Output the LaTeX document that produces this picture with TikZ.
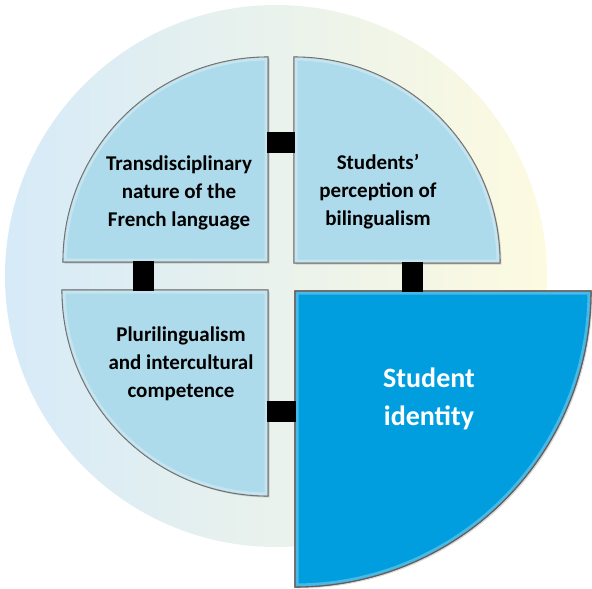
\documentclass[tikz,border=0pt]{standalone}
\usepackage{fontspec}
\setmainfont{Carlito}
\usetikzlibrary{shadows}
\definecolor{secfill}{RGB}{174,219,235}
\definecolor{secmain}{RGB}{0,158,222}
\definecolor{secline}{RGB}{95,95,95}
\definecolor{bgleft}{RGB}{214,234,248}
\definecolor{bgmid}{RGB}{232,238,206}
\definecolor{bgright}{RGB}{253,250,224}
\tikzset{
  sector/.style={fill=secfill, draw=secline, line width=1.1pt, line join=miter,
    drop shadow={shadow xshift=1.5pt, shadow yshift=-1.5pt, opacity=0.3}},
  mainsector/.style={sector, fill=secmain},
  glow/.style={draw=white, line width=7pt, opacity=0.28},
  bar/.style={draw=black, line width=21pt},
  lbl/.style={align=center, text=black, font=\bfseries\fontsize{21}{28}\selectfont},
  mainlbl/.style={align=center, text=white, font=\bfseries\fontsize{28}{38}\selectfont}
}
\def\pathTL{(268,-262) -- (63,-262) arc[start angle=180,end angle=90,radius=205] -- cycle}
\def\pathTR{(294,-263) -- (294,-57) arc[start angle=90,end angle=0,radius=206] -- cycle}
\def\pathBL{(268,-290) -- (62,-290) arc[start angle=180,end angle=270,radius=206] -- cycle}
\def\pathBR{(295,-291) -- (591,-291) arc[start angle=0,end angle=-90,radius=296] -- cycle}
\begin{document}
\begin{tikzpicture}[x=1pt,y=1pt]
\useasboundingbox (0,0) rectangle (592,-589);
% background disc
\shade[left color=bgleft, middle color=bgmid, right color=bgright] (276,-276) circle[radius=271];
% sectors
\path[sector] \pathTL;
\begin{scope}\clip \pathTL; \path[glow] \pathTL; \end{scope}
\path[sector] \pathTR;
\begin{scope}\clip \pathTR; \path[glow] \pathTR; \end{scope}
\path[sector] \pathBL;
\begin{scope}\clip \pathBL; \path[glow] \pathBL; \end{scope}
\path[mainsector] \pathBR;
\begin{scope}\clip \pathBR; \path[glow] \pathBR; \end{scope}
\draw[draw=secline, line width=1.1pt] \pathBR;
% connector end points
\coordinate (tlE) at (267,-142.5);
\coordinate (trW) at (295,-142.5);
\coordinate (tlS) at (143,-261);
\coordinate (blN) at (143,-291);
\coordinate (trS) at (412,-262);
\coordinate (brN) at (412,-292);
\coordinate (blE) at (267,-411.5);
\coordinate (brW) at (296,-411.5);
\draw[bar] (tlE) -- (trW);
\draw[bar] (tlS) -- (blN);
\draw[bar] (trS) -- (brN);
\draw[bar] (blE) -- (brW);
% labels
\node[lbl] (tl) at (179,-193) {Transdisciplinary\\nature of the\\French language};
\node[lbl] (tr) at (378,-192) {Students’\\perception of\\bilingualism};
\node[lbl] (bl) at (181,-364) {Plurilingualism\\and intercultural\\competence};
\node[mainlbl] (br) at (429,-399) {Student\\identity};
\end{tikzpicture}
\end{document}
